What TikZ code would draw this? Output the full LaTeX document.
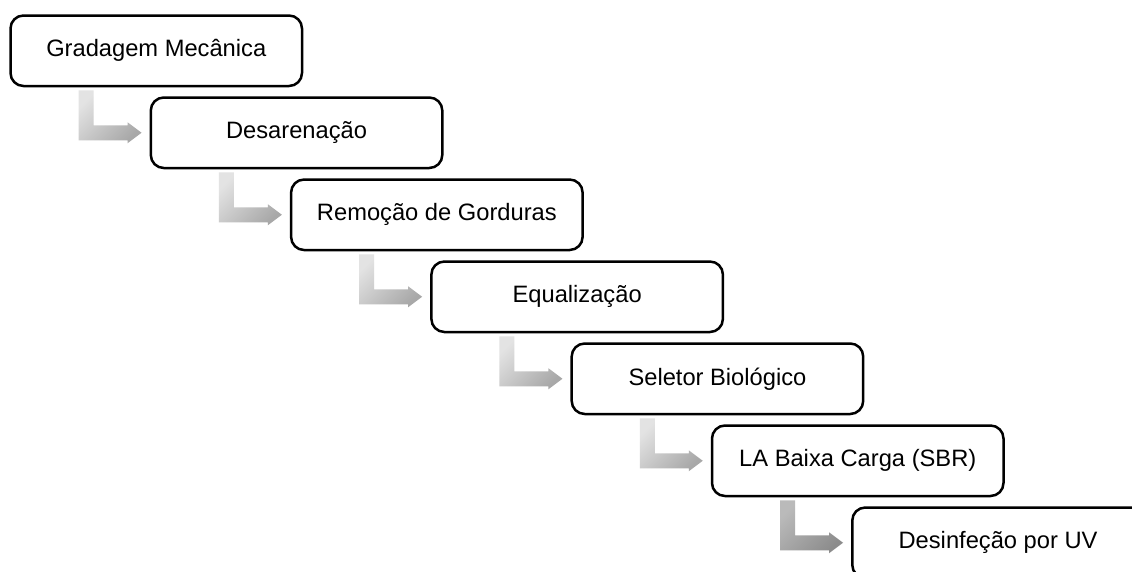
\documentclass[tikz,border=0pt]{standalone}
\usepackage{fontspec}
\setmainfont{Liberation Sans}
\usetikzlibrary{calc}
\tikzset{
  stagebox/.style={draw=black, line width=2.5pt, rounded corners=13pt, fill=white,
    minimum width=291.5pt, minimum height=70.5pt, inner sep=0pt, anchor=north west,
    font=\fontsize{23.7}{28}\selectfont, text=black},
}
\newcommand\steparrow[4]{%
  \path (#2.west) ++(-8,0) coordinate (tip#2)
        (#1.south -| tip#2) coordinate (top#2);
  \shade[top color=#3, bottom color=#4, shading angle=45]
    ([shift={(-63,3)}]top#2) -- ([shift={(-48,3)}]top#2)
    -- ([shift={(-48,-7.5)}]tip#2) -- ([shift={(-14,-7.5)}]tip#2)
    -- ([shift={(-14,-10.5)}]tip#2) -- (tip#2)
    -- ([shift={(-14,10.5)}]tip#2) -- ([shift={(-14,7.5)}]tip#2)
    -- ([shift={(-63,7.5)}]tip#2) -- cycle;
}
\begin{document}
\begin{tikzpicture}[x=1pt,y=-1pt]
\useasboundingbox (0,0) rectangle (1132,571);
\clip (0,0) rectangle (1132,571);
\fill[white] (0,0) rectangle (1132,571);
\node[stagebox] (n1) at (9.25,14.25) {Gradagem Mecânica};
\node[stagebox] (n2) at (149.55,96.25) {Desarenação};
\node[stagebox] (n3) at (289.85,178.25) {Remoção de Gorduras};
\node[stagebox] (n4) at (430.15,260.25) {Equalização};
\node[stagebox] (n5) at (570.45,342.25) {Seletor Biológico};
\node[stagebox] (n6) at (710.75,424.25) {LA Baixa Carga (SBR)};
\node[stagebox] (n7) at (851.05,506.25) {Desinfeção por UV};
\steparrow{n1}{n2}{black!11}{black!34}
\steparrow{n2}{n3}{black!11}{black!34}
\steparrow{n3}{n4}{black!11}{black!34}
\steparrow{n4}{n5}{black!11}{black!34}
\steparrow{n5}{n6}{black!11}{black!34}
\steparrow{n6}{n7}{black!27}{black!45}
\end{tikzpicture}
\end{document}
